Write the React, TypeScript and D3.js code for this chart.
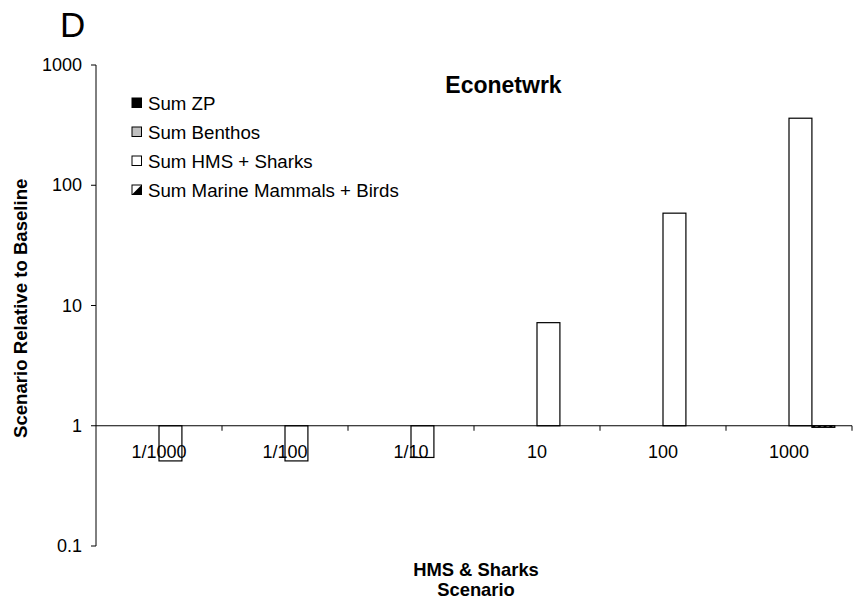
import React from "react";
import * as d3 from "d3";

const categories = ["1/1000", "1/100", "1/10", "10", "100", "1000"];
const seriesNames = ["Sum ZP", "Sum Benthos", "Sum HMS + Sharks", "Sum Marine Mammals + Birds"];
const sumZP = [1, 1, 1, 1, 1, 1];
const sumBenthos = [1, 1, 1, 1, 1, 1];
const sumHMS = [0.51, 0.51, 0.545, 7.2, 58.6, 361];
const sumMammalsBirds = [1, 1, 1, 1, 1, 0.97];
const yTicks = [0.1, 1, 10, 100, 1000];

const seriesValues = [sumZP, sumBenthos, sumHMS, sumMammalsBirds];
const fills = ["#000000", "#c0c0c0", "#ffffff", "url(#halfPattern)"];

const W = 853;
const H = 602;
const FONT = "Liberation Sans, Arial, sans-serif";

export default function App() {
  const left = 96;
  const right = 852;
  const top = 65;
  const bottom = 546;

  const y = d3.scaleLog().domain([0.1, 1000]).range([bottom, top]);
  const x0 = d3.scaleBand<string>().domain(categories).range([left, right]).paddingInner(0).paddingOuter(0);
  // four bars per group with a 150% gap between groups
  const groupW = (x0.bandwidth() * 4) / 5.5;
  const x1 = d3
    .scaleBand<number>()
    .domain([0, 1, 2, 3])
    .range([0, groupW]);

  const base = y(1);

  return (
    <svg width={W} height={H} style={{ display: "block", position: "absolute", left: 0, top: 0 }} fontFamily={FONT}>
      <defs>
        <pattern id="halfPattern" width="4" height="4" patternUnits="userSpaceOnUse" patternTransform="rotate(45)">
          <rect width="4" height="4" fill="#fff" />
          <rect width="2" height="4" fill="#000" />
        </pattern>
      </defs>
      <rect width={W} height={H} fill="#fff" />

      {/* panel letter */}
      <text x={60} y={37} fontSize={35}>D</text>

      {/* title */}
      <text x={503.5} y={93} fontSize={23} fontWeight="bold" textAnchor="middle">Econetwrk</text>

      {/* bars */}
      {categories.map((c, ci) => {
        const gx = (x0(c) as number) + x0.bandwidth() / 2 - groupW / 2;
        return seriesValues.map((vals, si) => {
          const v = vals[ci];
          const yv = y(v);
          const y0 = Math.min(yv, base);
          const h = Math.abs(yv - base);
          if (h < 0.01) return null;
          return (
            <rect
              key={`${ci}-${si}`}
              x={gx + (x1(si) as number)}
              y={y0}
              width={x1.bandwidth()}
              height={h}
              fill={fills[si]}
              stroke="#000"
              strokeWidth={1.2}
            />
          );
        });
      })}

      {/* y axis */}
      <line x1={left} x2={left} y1={top} y2={bottom} stroke="#000" strokeWidth={1} />
      {yTicks.map((t) => (
        <g key={t}>
          <line x1={left - 5} x2={left} y1={y(t)} y2={y(t)} stroke="#000" strokeWidth={1} />
          <text x={82} y={y(t) + 6} fontSize={18} textAnchor="end">{d3.format("~g")(t)}</text>
        </g>
      ))}

      {/* x axis drawn at the baseline value 1 */}
      <line x1={left} x2={right} y1={base} y2={base} stroke="#000" strokeWidth={1} />
      {categories.map((c) => (
        <line
          key={`t-${c}`}
          x1={(x0(c) as number) + x0.bandwidth()}
          x2={(x0(c) as number) + x0.bandwidth()}
          y1={base}
          y2={base + 5}
          stroke="#000"
          strokeWidth={1}
        />
      ))}
      {categories.map((c) => (
        <text key={`l-${c}`} x={(x0(c) as number) + x0.bandwidth() / 2} y={458} fontSize={18} textAnchor="middle">
          {c}
        </text>
      ))}

      {/* axis titles */}
      <text x={476} y={576} fontSize={18.4} fontWeight="bold" textAnchor="middle">HMS &amp; Sharks</text>
      <text x={476} y={596} fontSize={18.4} fontWeight="bold" textAnchor="middle">Scenario</text>
      <text transform="translate(27,438) rotate(-90)" fontSize={18.6} fontWeight="bold" textAnchor="start">
        Scenario Relative to Baseline
      </text>

      {/* legend */}
      {seriesNames.map((name, i) => {
        const ly = 103 + i * 29;
        return (
          <g key={name}>
            {i < 3 ? (
              <rect x={132} y={ly - 5} width={9.5} height={9.5} fill={fills[i]} stroke="#000" strokeWidth={1} />
            ) : (
              <g>
                <rect x={132} y={ly - 5} width={9.5} height={9.5} fill="#fff" stroke="#000" strokeWidth={1} />
                <polygon points={`${132},${ly + 4.5} ${141.5},${ly - 5} ${141.5},${ly + 4.5}`} fill="#000" />
              </g>
            )}
            <text x={148} y={ly + 6.5} fontSize={18.7}>{name}</text>
          </g>
        );
      })}
    </svg>
  );
}
